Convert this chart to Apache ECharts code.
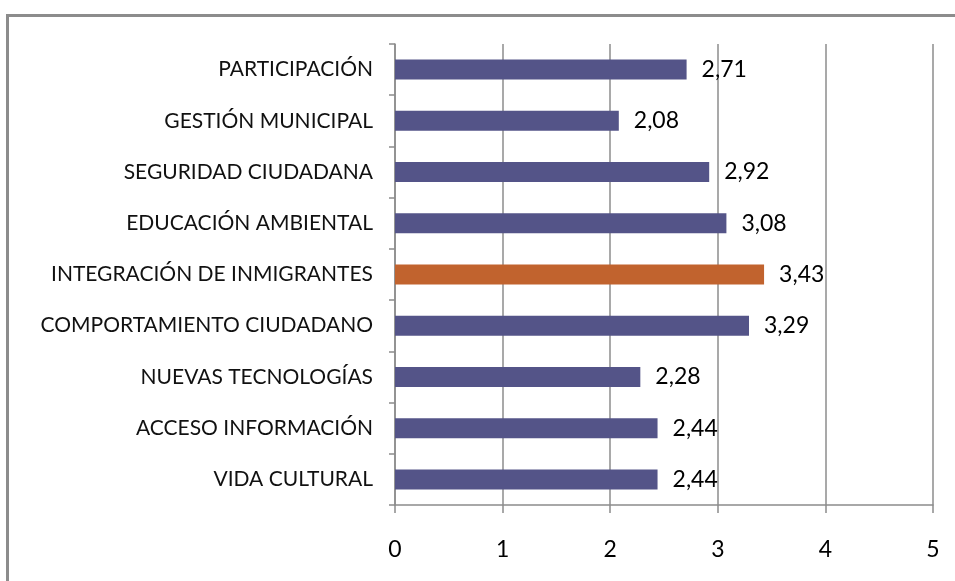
<!DOCTYPE html>
<html>
<head>
<meta charset="utf-8">
<script src="https://cdn.jsdelivr.net/npm/echarts@6/dist/echarts.min.js"></script>
<style>
  html, body { margin: 0; padding: 0; background: #fff; }
  #frame {
    position: absolute; left: 6px; top: 14px; width: 960px; height: 580px;
    border-left: 3px solid #8c8c8c; border-top: 3px solid #8c8c8c;
    box-sizing: border-box;
  }
  #chart { position: absolute; left: 0; top: 0; width: 955px; height: 581px; }
</style>
</head>
<body>
<div id="frame"></div>
<div id="chart"></div>
<script>
// categories, top to bottom as in the picture
var categories = ['PARTICIPACIÓN', 'GESTIÓN MUNICIPAL', 'SEGURIDAD CIUDADANA', 'EDUCACIÓN AMBIENTAL',
    'INTEGRACIÓN DE INMIGRANTES', 'COMPORTAMIENTO CIUDADANO', 'NUEVAS TECNOLOGÍAS',
    'ACCESO INFORMACIÓN', 'VIDA CULTURAL'];
var values = [2.71, 2.08, 2.92, 3.08, 3.43, 3.29, 2.28, 2.44, 2.44];
var highlight = 'INTEGRACIÓN DE INMIGRANTES';
var xTicks = [0, 1, 2, 3, 4, 5];

(function () {
    var myChart = echarts.init(document.getElementById('chart'));

    var data = values.map(function (v, i) {
        return {
            value: v,
            itemStyle: { color: categories[i] === highlight ? '#c1632e' : '#545488' }
        };
    });

    var option = {
        animation: false,
        grid: {
            left: 395,
            right: 22,
            top: 44,
            bottom: 76
        },
        xAxis: {
            type: 'value',
            min: xTicks[0],
            max: xTicks[xTicks.length - 1],
            interval: 1,
            axisLine: { show: true, lineStyle: { color: '#8c8c8c', width: 1.5 } },
            axisTick: { show: true, length: 8, lineStyle: { color: '#8c8c8c', width: 1.5 } },
            splitLine: { show: true, lineStyle: { color: '#8c8c8c', width: 1.5 } },
            axisLabel: {
                color: '#000',
                fontFamily: 'Lato',
                fontSize: 23,
                margin: 33,
                formatter: function (v) { return String(v); }
            }
        },
        yAxis: {
            type: 'category',
            data: categories,
            inverse: true,
            axisLine: { show: true, lineStyle: { color: '#8c8c8c', width: 1.5 } },
            axisTick: { show: true, length: 6, lineStyle: { color: '#8c8c8c', width: 1.5 } },
            axisLabel: {
                color: '#111',
                fontFamily: 'Lato',
                fontSize: 21,
                margin: 22
            }
        },
        series: [
            {
                type: 'bar',
                data: data,
                barWidth: 20,
                label: {
                    show: true,
                    position: 'right',
                    distance: 15,
                    color: '#000',
                    fontFamily: 'Lato',
                    fontSize: 23,
                    formatter: function (p) { return p.value.toFixed(2).replace('.', ','); }
                }
            }
        ]
    };

    myChart.setOption(option);
})();
</script>
</body>
</html>
